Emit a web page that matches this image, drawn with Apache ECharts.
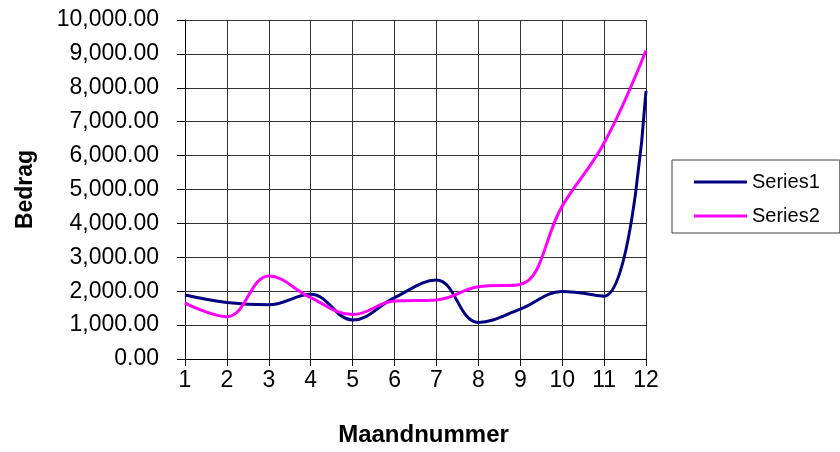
<!DOCTYPE html>
<html>
<head>
<meta charset="utf-8">
<script src="https://cdn.jsdelivr.net/npm/echarts@6/dist/echarts.min.js"></script>
<style>
  html, body { margin: 0; padding: 0; background: #fff; }
  #chart { width: 840px; height: 452px; }
</style>
</head>
<body>
<div id="chart"></div>
<script>
// maanden 1..12
let months = ['1', '2', '3', '4', '5', '6', '7', '8', '9', '10', '11', '12']

let series1 = [1890, 1670, 1600, 1910, 1150, 1810, 2330, 1080, 1470, 1990, 1850, 7910]
let series2 = [1650, 1250, 2450, 1810, 1310, 1710, 1740, 2130, 2200, 4510, 6370, 9100]

let font = '"Liberation Sans", Arial, sans-serif'

let chart = echarts.init(document.getElementById('chart'))

chart.setOption({
  animation: false,
  grid: {
    left: 185,
    right: 194,
    top: 20,
    bottom: 92
  },
  legend: {
    left: 672,
    top: 160,
    orient: 'vertical',
    borderColor: '#404040',
    borderWidth: 1,
    padding: [11, 20, 6, 22],
    itemGap: 12,
    itemWidth: 53,
    itemHeight: 3,
    icon: 'rect',
    textStyle: {
      fontFamily: font,
      fontSize: 20,
      color: '#000',
      lineHeight: 22
    },
    data: ['Series1', 'Series2']
  },
  xAxis: {
    type: 'category',
    data: months,
    boundaryGap: false,
    name: 'Maandnummer',
    nameLocation: 'middle',
    nameGap: 64,
    nameTextStyle: {
      fontFamily: font,
      fontSize: 24,
      fontWeight: 'bold',
      color: '#000',
      padding: [0, 0, 0, 16]
    },
    axisLine: { lineStyle: { color: '#000', width: 1 } },
    axisTick: { show: true, length: 7, lineStyle: { color: '#000' } },
    axisLabel: {
      fontFamily: font,
      fontSize: 23,
      color: '#000',
      margin: 10
    },
    splitLine: { show: true, lineStyle: { color: '#333', width: 1 } }
  },
  yAxis: {
    type: 'value',
    min: 0,
    max: 10000,
    interval: 1000,
    name: 'Bedrag',
    nameLocation: 'middle',
    nameGap: 148,
    nameTextStyle: {
      fontFamily: font,
      fontSize: 23,
      fontWeight: 'bold',
      color: '#000'
    },
    axisLine: { show: true, lineStyle: { color: '#000', width: 1 } },
    axisTick: { show: true, length: 8, lineStyle: { color: '#000' } },
    axisLabel: {
      fontFamily: font,
      fontSize: 23,
      color: '#000',
      margin: 26,
      formatter: v => v.toLocaleString('en-US', { minimumFractionDigits: 2, maximumFractionDigits: 2 })
    },
    splitLine: { show: true, lineStyle: { color: '#333', width: 1 } }
  },
  series: [
    {
      name: 'Series1',
      type: 'line',
      data: series1,
      smooth: 0.4,
      symbol: 'none',
      lineStyle: { color: '#000080', width: 3 },
      itemStyle: { color: '#000080' }
    },
    {
      name: 'Series2',
      type: 'line',
      data: series2,
      smooth: 0.4,
      symbol: 'none',
      lineStyle: { color: '#FF00FF', width: 3 },
      itemStyle: { color: '#FF00FF' }
    }
  ]
})
</script>
</body>
</html>
